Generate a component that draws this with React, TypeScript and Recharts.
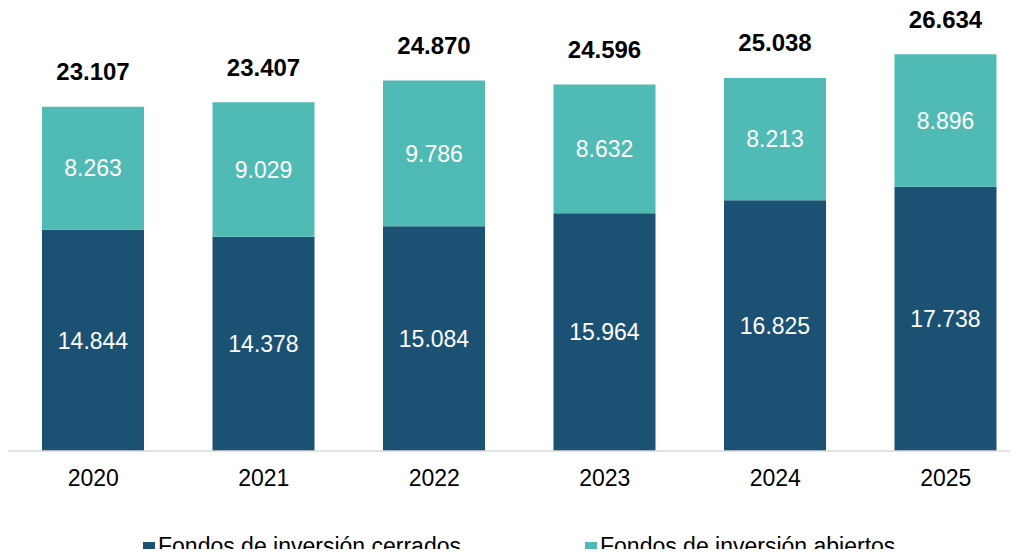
import { BarChart, Bar, XAxis, YAxis, LabelList } from 'recharts'

// Datos del gráfico
const years = ['2020', '2021', '2022', '2023', '2024', '2025']
const cerrados = [14844, 14378, 15084, 15964, 16825, 17738]
const abiertos = [8263, 9029, 9786, 8632, 8213, 8896]

const COLOR_CERRADOS = '#1B5173'
const COLOR_ABIERTOS = '#50BAB5'
const FONT = "'Liberation Sans', Arial, sans-serif"

const chartData = years.map((year, i) => ({
  year,
  cerrados: cerrados[i],
  abiertos: abiertos[i],
  total: cerrados[i] + abiertos[i],
}))

// 14844 -> "14.844"
const fmt = (v: number) => String(v).replace(/\B(?=(\d{3})+(?!\d))/g, '.')

function TotalLabel(props: any) {
  const { x, y, width, value } = props
  return (
    <text
      x={x + width / 2}
      y={y - 35}
      textAnchor="middle"
      dominantBaseline="central"
      fontFamily={FONT}
      fontSize={24}
      fontWeight={700}
      fill="#000"
    >
      {fmt(Number(value))}
    </text>
  )
}

function LegendItem({ left, color, label }: { left: number; color: string; label: string }) {
  return (
    <div
      style={{
        position: 'absolute',
        left,
        top: 535,
        display: 'flex',
        alignItems: 'center',
        fontFamily: FONT,
        fontSize: 23,
        lineHeight: '23px',
        color: '#000',
        whiteSpace: 'nowrap',
      }}
    >
      <span style={{ width: 12, height: 12, background: color, marginRight: 3, marginTop: 3 }} />
      <span>{label}</span>
    </div>
  )
}

export default function App() {
  return (
    <div
      style={{
        position: 'relative',
        width: 1018,
        height: 557,
        margin: -8,
        overflow: 'hidden',
        background: '#fff',
      }}
    >
      <BarChart
        width={1040}
        height={557}
        data={chartData}
        margin={{ top: 4, right: 9, bottom: 0, left: 8 }}
      >
        <XAxis
          dataKey="year"
          axisLine={{ stroke: '#D9D9D9', strokeWidth: 1.5 }}
          tickLine={false}
          tickSize={0}
          tickMargin={19}
          tick={{ fontFamily: FONT, fontSize: 23, fill: '#000' }}
          height={106}
          interval={0}
        />
        <YAxis hide domain={[0, 30000]} width={0} />
        <Bar dataKey="cerrados" stackId="a" fill={COLOR_CERRADOS} barSize={102} isAnimationActive={false}>
          <LabelList
            dataKey="cerrados"
            position="center"
            formatter={(v: any) => fmt(Number(v))}
            style={{ fontFamily: FONT, fontSize: 23, fill: '#fff' }}
          />
        </Bar>
        <Bar dataKey="abiertos" stackId="a" fill={COLOR_ABIERTOS} barSize={102} isAnimationActive={false}>
          <LabelList
            dataKey="abiertos"
            position="center"
            formatter={(v: any) => fmt(Number(v))}
            style={{ fontFamily: FONT, fontSize: 23, fill: '#fff' }}
          />
          <LabelList dataKey="total" content={<TotalLabel />} />
        </Bar>
      </BarChart>
      <LegendItem left={143} color={COLOR_CERRADOS} label="Fondos de inversión cerrados" />
      <LegendItem left={585} color={COLOR_ABIERTOS} label="Fondos de inversión abiertos" />
    </div>
  )
}
